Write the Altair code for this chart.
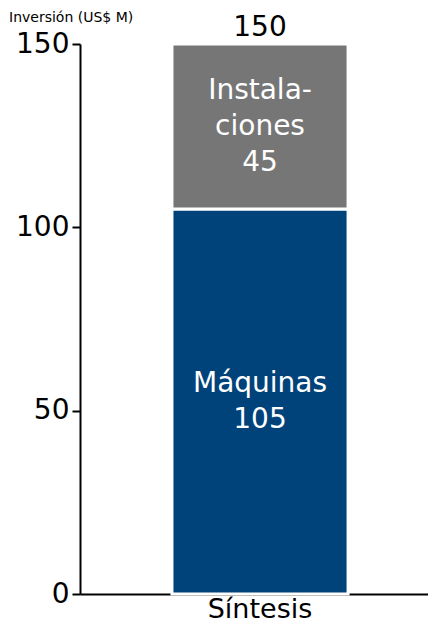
import altair as alt
import pandas as pd

categories = ["Síntesis"]
components = ["Máquinas", "Instalaciones"]
display_labels = ["Máquinas", "Instala-\nciones"]
values = [105, 45]
stack_order = [1, 2]
colors = ["#00427A", "#767676"]
y_ticks = [0, 50, 100, 150]
title_text = "Inversión (US$ M)"

FONT = "DejaVu Sans"
LINE_H = 36

df = pd.DataFrame({
    "cat": categories * len(components),
    "comp": components,
    "label": [f"{l}\n{v}" for l, v in zip(display_labels, values)],
    "value": values,
    "order": stack_order,
})
cum = df["value"].cumsum()
df["start"] = cum - df["value"]
df["end"] = cum
df["mid"] = (df["start"] + df["end"]) / 2

tot = pd.DataFrame({"cat": categories, "total": [sum(values)]})

x_enc = alt.X("cat:N", title=None,
              scale=alt.Scale(paddingInner=0.328, paddingOuter=0.328, align=0.535),
              axis=alt.Axis(labelAngle=0, ticks=False, domainColor="black", domainWidth=2,
                            labelFont=FONT, labelFontSize=27, labelColor="black", labelPadding=2))
y_scale = alt.Scale(domain=[0, 150], nice=False)

bars = alt.Chart(df).mark_bar(stroke="white", strokeWidth=3).encode(
    x=x_enc,
    y=alt.Y("start:Q", scale=y_scale, title=None,
            axis=alt.Axis(values=y_ticks, grid=False, domainColor="black", domainWidth=2,
                          tickColor="black", tickWidth=2, tickSize=8, labelPadding=3,
                          labelFont=FONT, labelFontSize=28, labelColor="black")),
    y2="end:Q",
    color=alt.Color("comp:N", scale=alt.Scale(domain=components, range=colors), legend=None),
    order="order:Q",
)

label_layers = []
for comp, lab in zip(df["comp"], df["label"]):
    n_lines = lab.count("\n") + 1
    label_layers.append(
        alt.Chart(df).transform_filter(alt.datum.comp == comp).mark_text(
            color="white", font=FONT, fontSize=28, lineBreak="\n", lineHeight=LINE_H,
            baseline="middle", dy=-(n_lines - 1) * LINE_H / 2).encode(
            x="cat:N",
            y=alt.Y("mid:Q", scale=y_scale),
            text="label:N",
        )
    )

totals = alt.Chart(tot).mark_text(color="black", font=FONT, fontSize=28, baseline="bottom", dy=-2).encode(
    x="cat:N",
    y=alt.Y("total:Q", scale=y_scale),
    text="total:Q",
)

title = alt.Chart(pd.DataFrame({"t": [title_text]})).mark_text(
    color="black", font=FONT, fontSize=14, align="left", baseline="top").encode(
    x=alt.value(-71), y=alt.value(-33), text="t:N")

chart = alt.layer(bars, *label_layers, totals, title).properties(
    width=348, height=550,
    autosize=alt.AutoSizeParams(type="none"),
    padding={"left": 72, "top": 36, "right": 0, "bottom": 33},
).configure_view(stroke=None)

chart.save("out.html", embed_options={"renderer": "svg", "actions": False})
